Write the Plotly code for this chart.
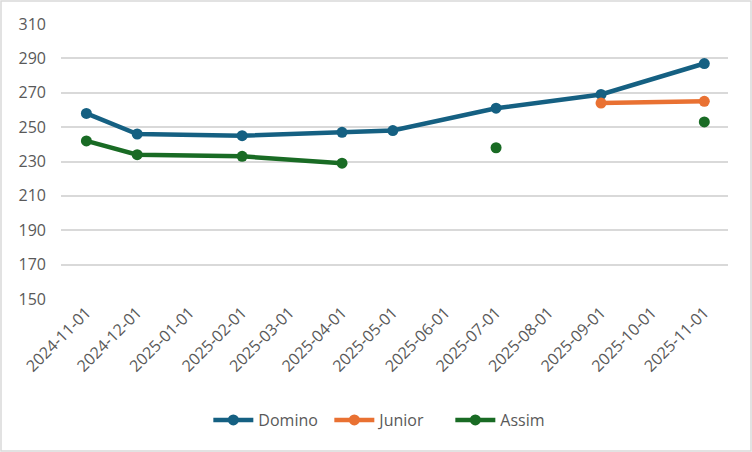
import plotly.graph_objects as go

dates = ["2024-11-01", "2024-12-01", "2025-02-01", "2025-04-01",
         "2025-05-01", "2025-07-01", "2025-09-01", "2025-11-01"]
domino = [258, 246, 245, 247, 248, 261, 269, 287]
junior = [None, None, None, None, None, None, 264, 265]
assim = [242, 234, 233, 229, None, 238, None, 253]

tick_dates = ["2024-11-01", "2024-12-01", "2025-01-01", "2025-02-01", "2025-03-01",
              "2025-04-01", "2025-05-01", "2025-06-01", "2025-07-01", "2025-08-01",
              "2025-09-01", "2025-10-01", "2025-11-01"]
y_ticks = [150, 170, 190, 210, 230, 250, 270, 290, 310]

series = [("Domino", domino, "#156082"), ("Junior", junior, "#E97132"), ("Assim", assim, "#196B24")]

W, H = 752, 452
ml, mr, mt, mb = 61, 24, 24, 153

fig = go.Figure()
for name, vals, col in series:
    fig.add_trace(go.Scatter(
        x=dates, y=vals, name=name, mode="lines+markers",
        line=dict(color=col, width=4.5),
        marker=dict(color=col, size=11),
        connectgaps=False,
    ))

font = dict(family="Open Sans, Liberation Sans, Arial, sans-serif", size=16, color="#595959")

pw = W - ml - mr
ph = H - mt - mb
fig.add_shape(type="rect", xref="paper", yref="paper",
              x0=(-ml + 1) / pw, x1=(W - ml - 1) / pw,
              y0=(-mb + 1) / ph, y1=(H - mb - 1) / ph,
              line=dict(color="#D9D9D9", width=1.5), layer="below")

fig.update_layout(
    width=W, height=H,
    margin=dict(l=ml, r=mr, t=mt, b=mb, autoexpand=False),
    paper_bgcolor="white", plot_bgcolor="white",
    font=font,
    showlegend=True,
    legend=dict(orientation="h", x=0.493, xanchor="center", y=-0.44, yanchor="middle",
                font=font, itemwidth=40, traceorder="normal",
                entrywidth=66, entrywidthmode="pixels"),
    xaxis=dict(type="date", range=["2024-10-17", "2025-11-15"],
               tickmode="array", tickvals=tick_dates, ticktext=tick_dates,
               tickangle=-45, showgrid=False, zeroline=False, showline=False,
               ticks="", tickfont=font, automargin=False),
    yaxis=dict(range=[150, 310], tickmode="array", tickvals=y_ticks,
               showgrid=True, gridcolor="#D9D9D9", gridwidth=1.5,
               zeroline=False, showline=False, ticks="", ticklabelstandoff=14,
               tickfont=font, automargin=False),
)

fig.write_html("out.html", config={"displayModeBar": False},
               post_script="document.body.style.margin='0';document.body.style.overflow='hidden';")
